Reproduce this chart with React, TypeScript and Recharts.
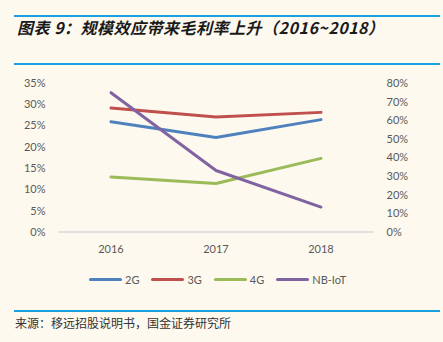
import React from 'react';
import { LineChart, Line, XAxis, YAxis } from 'recharts';

const years = ['2016', '2017', '2018'];
const margin2G = [25.9, 22.2, 26.4];
const margin3G = [29.1, 27.0, 28.1];
const margin4G = [12.9, 11.4, 17.3];
const marginNBIoT = [74.8, 33.0, 13.4];

const leftTicks = [0, 5, 10, 15, 20, 25, 30, 35];
const rightTicks = [0, 10, 20, 30, 40, 50, 60, 70, 80];

const SERIES = [
  { key: 'g2', name: '2G', color: '#4F81BD', axis: 'left' },
  { key: 'g3', name: '3G', color: '#C0504D', axis: 'left' },
  { key: 'g4', name: '4G', color: '#9BBB59', axis: 'left' },
  { key: 'nb', name: 'NB-IoT', color: '#8064A2', axis: 'right' },
];

const data = years.map((year, i) => ({
  year,
  g2: margin2G[i],
  g3: margin3G[i],
  g4: margin4G[i],
  nb: marginNBIoT[i],
}));

const BG = '#FDF9EF';
const RULE = '#19A0DE';
const tickStyle = { fontSize: 11, fill: '#595959', fontFamily: 'Lato, "Open Sans", sans-serif' };
const pct = (v: number) => `${v}%`;

const App: React.FC = () => {
  return (
    <div style={{ position: 'absolute', left: 0, top: 0, width: 443, height: 342, background: BG, overflow: 'hidden' }}>
      <div style={{ position: 'absolute', left: 14, top: 15, width: 426, height: 2, background: RULE }} />
      <div
        style={{
          position: 'absolute',
          left: 17,
          top: 16,
          fontFamily: '"Noto Sans CJK SC", sans-serif',
          fontWeight: 700,
          fontStyle: 'italic',
          fontSize: 16,
          letterSpacing: 0.5,
          color: '#1a1a1a',
          whiteSpace: 'nowrap',
          lineHeight: '22px',
        }}
      >
        图表 9：规模效应带来毛利率上升（2016~2018）
      </div>
      <div style={{ position: 'absolute', left: 14, top: 63, width: 426, height: 2, background: RULE }} />

      <div style={{ position: 'absolute', left: 0, top: 0 }}>
        <LineChart width={443} height={342} data={data} margin={{ top: 83, right: 0, bottom: 80, left: 0 }}>
          <XAxis
            dataKey="year"
            axisLine={{ stroke: '#D9D9D9', strokeWidth: 1.5 }}
            tickLine={false}
            tickMargin={7}
            height={30}
            padding={{ left: 52.5, right: 52.5 }}
            tick={tickStyle}
          />
          <YAxis
            yAxisId="left"
            orientation="left"
            width={58.5}
            domain={[0, 35]}
            ticks={leftTicks}
            tickFormatter={pct}
            axisLine={false}
            tickLine={false}
            tickMargin={7}
            tick={tickStyle}
            interval={0}
          />
          <YAxis
            yAxisId="right"
            orientation="right"
            width={69.5}
            domain={[0, 80]}
            ticks={rightTicks}
            tickFormatter={pct}
            axisLine={false}
            tickLine={false}
            tickMargin={7}
            tick={{ ...tickStyle, textAnchor: 'start' }}
            interval={0}
          />
          {SERIES.map((s) => (
            <Line
              key={s.key}
              yAxisId={s.axis}
              type="linear"
              dataKey={s.key}
              name={s.name}
              stroke={s.color}
              strokeWidth={3}
              strokeLinecap="round"
              strokeLinejoin="round"
              dot={false}
              activeDot={false}
              isAnimationActive={false}
            />
          ))}
        </LineChart>
      </div>

      {/* legend */}
      <div style={{ position: 'absolute', left: 89, top: 271, display: 'flex', alignItems: 'center', height: 16 }}>
        {SERIES.map((s, i) => (
          <div key={s.key} style={{ display: 'flex', alignItems: 'center', marginLeft: i === 0 ? 0 : 12 }}>
            <div style={{ width: 33, height: 3, borderRadius: 2, background: s.color }} />
            <span style={{ marginLeft: 3, fontSize: 11, color: '#595959', fontFamily: 'Lato, "Open Sans", sans-serif' }}>{s.name}</span>
          </div>
        ))}
      </div>

      <div style={{ position: 'absolute', left: 14, top: 310, width: 426, height: 2, background: RULE }} />
      <div
        style={{
          position: 'absolute',
          left: 15,
          top: 315,
          fontFamily: '"Noto Sans CJK SC", sans-serif',
          fontSize: 12,
          color: '#333',
          lineHeight: '16px',
          whiteSpace: 'nowrap',
        }}
      >
        来源：移远招股说明书，国金证券研究所
      </div>
    </div>
  );
};

export default App;
